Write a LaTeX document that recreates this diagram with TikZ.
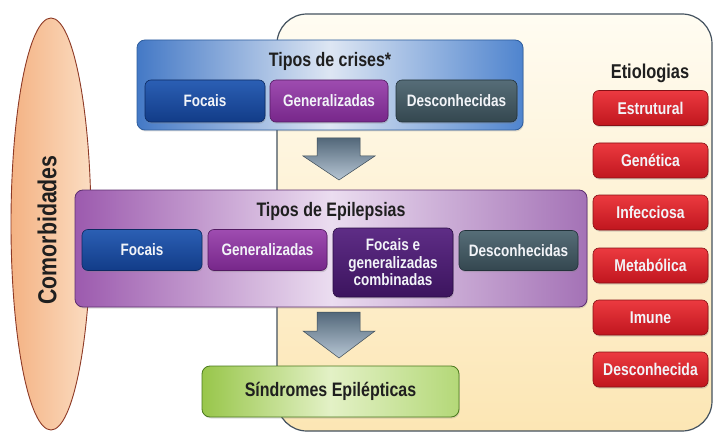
\documentclass[tikz,border=0pt]{standalone}
\usepackage{fontspec}
\setmainfont{Liberation Sans}[FakeStretch=0.82]
\usetikzlibrary{shadows,calc,shapes.geometric}
\definecolor{creamtop}{HTML}{FFFCF2}
\definecolor{creambot}{HTML}{FCE6B4}
\definecolor{creamline}{HTML}{44525F}
\definecolor{peachL}{HTML}{F4B283}
\definecolor{peachM}{HTML}{FDE2CA}
\definecolor{peachR}{HTML}{FBDDC2}
\definecolor{peachline}{HTML}{8E3A26}
\definecolor{blueL}{HTML}{4479C6}
\definecolor{blueM}{HTML}{DDE6F3}
\definecolor{blueR}{HTML}{4F84CE}
\definecolor{blueline}{HTML}{2F5E9E}
\definecolor{purpL}{HTML}{9C5AAE}
\definecolor{purpM}{HTML}{EBDDF0}
\definecolor{purpR}{HTML}{A472B6}
\definecolor{purpline}{HTML}{5E2F70}
\definecolor{greenL}{HTML}{98C64A}
\definecolor{greenM}{HTML}{E3F1C6}
\definecolor{greenR}{HTML}{B4D878}
\definecolor{greenline}{HTML}{4B7A1E}
\definecolor{focT}{HTML}{2B5FB4}
\definecolor{focB}{HTML}{123C88}
\definecolor{focline}{HTML}{0C2A62}
\definecolor{genT}{HTML}{9E4CB0}
\definecolor{genB}{HTML}{77278A}
\definecolor{genline}{HTML}{531A62}
\definecolor{desT}{HTML}{566D78}
\definecolor{desB}{HTML}{34474F}
\definecolor{desline}{HTML}{22323A}
\definecolor{comT}{HTML}{5E2D86}
\definecolor{comB}{HTML}{3C145E}
\definecolor{comline}{HTML}{2A0C44}
\definecolor{redT}{HTML}{EC3A40}
\definecolor{redB}{HTML}{C0161E}
\definecolor{redline}{HTML}{861015}
\definecolor{arrT}{HTML}{53687A}
\definecolor{arrB}{HTML}{B7C6D4}
\definecolor{btntext}{HTML}{F2F4F8}
\begin{document}
\begin{tikzpicture}[x=1pt,y=-1pt,
  btnfont/.style={font=\bfseries\fontsize{16.5}{18}\selectfont},
  titlefont/.style={font=\bfseries\fontsize{19.5}{21}\selectfont},
  btn/.style={btnfont, rounded corners=6pt, inner sep=0pt, text=btntext,
    line width=0.6pt, align=center,
    drop shadow={shadow xshift=0.8pt, shadow yshift=-1.6pt, opacity=0.3}},
  focbtn/.style={btn, draw=focline, top color=focT, bottom color=focB},
  genbtn/.style={btn, draw=genline, top color=genT, bottom color=genB},
  desbtn/.style={btn, draw=desline, top color=desT, bottom color=desB},
  combtn/.style={btn, draw=comline, top color=comT, bottom color=comB},
  redbtn/.style={btn, font=\bfseries\fontsize{17}{18}\selectfont, draw=redline,
    top color=redT, bottom color=redB, minimum width=115pt, minimum height=35pt},
  panel/.style={rounded corners=8pt, line width=0.8pt, inner sep=0pt},
  downarrow/.style={draw=arrT!70!black, line width=0.5pt, top color=arrT, bottom color=arrB}
]
\useasboundingbox (0,0) rectangle (715,433);
\fill[white] (0,0) rectangle (715,433);

% large cream area
\node[draw=creamline, line width=1.2pt, rounded corners=30pt, top color=creamtop,
  bottom color=creambot, minimum width=435pt, minimum height=417pt, inner sep=0pt]
  (etiarea) at (494.5,222.5) {};

% comorbidities ellipse
\node[ellipse, draw=peachline, line width=0.9pt, left color=peachL, middle color=peachM,
  right color=peachR, minimum width=80pt, minimum height=412pt, inner sep=0pt] (como) at (51,224) {};
\node[rotate=90, font=\bfseries\fontsize{26}{28}\selectfont, text=black!88] (comotxt) at (47,230) {Comorbidades};

% seizure types panel
\node[panel, draw=blueline, left color=blueL, right color=blueR, middle color=blueM,
  minimum width=386pt, minimum height=90pt,
  drop shadow={shadow xshift=0.8pt, shadow yshift=-1.5pt, opacity=0.25}] (crises) at (330,85) {};
\node[titlefont, text=black!88] (crisestit) at (330,61) {Tipos de crises*};
\node[focbtn, minimum width=120pt, minimum height=42pt] (cfoc) at (205,101) {Focais};
\node[genbtn, minimum width=118pt, minimum height=42pt] (cgen) at (329,101) {Generalizadas};
\node[desbtn, minimum width=121pt, minimum height=42pt] (cdes) at (456.5,101) {Desconhecidas};

% arrow 1
\path[downarrow] (317,138) -- (360,138) -- (360,156) -- (375,156) -- (339,180)
  -- (303,156) -- (317,156) -- cycle;

% epilepsy types panel
\node[panel, draw=purpline, left color=purpL, right color=purpR, middle color=purpM,
  minimum width=512pt, minimum height=117pt,
  drop shadow={shadow xshift=0.8pt, shadow yshift=-1.5pt, opacity=0.25}] (epi) at (331,248.5) {};
\node[titlefont, text=black!88] (epitit) at (331,211) {Tipos de Epilepsias};
\node[focbtn, minimum width=120pt, minimum height=41pt] (efoc) at (142,250) {Focais};
\node[genbtn, minimum width=119pt, minimum height=41pt] (egen) at (267.5,250) {Generalizadas};
\node[combtn, minimum width=120pt, minimum height=69pt, font=\bfseries\fontsize{16.5}{17.5}\selectfont]
  (ecom) at (393,262.5) {Focais e\\generalizadas\\combinadas};
\node[desbtn, minimum width=119pt, minimum height=40pt] (edes) at (518.5,250.5) {Desconhecidas};

% arrow 2
\path[downarrow] (317,312) -- (360,312) -- (360,331) -- (375,331) -- (339,358)
  -- (303,331) -- (317,331) -- cycle;

% syndromes
\node[panel, draw=greenline, left color=greenL, right color=greenR, middle color=greenM,
  minimum width=257pt, minimum height=51pt, titlefont, text=black!88,
  drop shadow={shadow xshift=0.8pt, shadow yshift=-1.5pt, opacity=0.25}] (sind) at (330.5,391.5) {Síndromes Epilépticas};

% etiologies
\node[titlefont, font=\bfseries\fontsize{20}{22}\selectfont, text=black!88] (etitit) at (650,73) {Etiologias};
\node[redbtn] (e1) at (650.5,108) {Estrutural};
\node[redbtn] (e2) at (650.5,160.5) {Genética};
\node[redbtn] (e3) at (650.5,212.5) {Infecciosa};
\node[redbtn] (e4) at (650.5,265.5) {Metabólica};
\node[redbtn] (e5) at (650.5,317.5) {Imune};
\node[redbtn] (e6) at (650.5,369.5) {Desconhecida};
\end{tikzpicture}
\end{document}
